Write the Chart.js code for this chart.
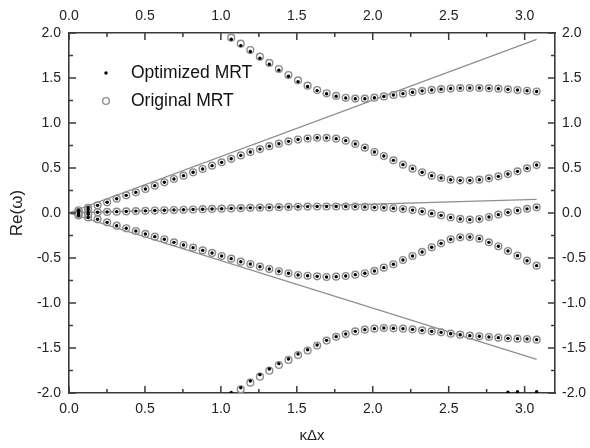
<!DOCTYPE html>
<html>
<head>
<meta charset="utf-8">
<script src="https://cdn.jsdelivr.net/npm/chart.js@4.4.1/dist/chart.umd.min.js"></script>
<style>
  html, body { margin: 0; padding: 0; background: #fff; }
</style>
</head>
<body>
<canvas id="chart" width="590" height="448"></canvas>
<script>
// kΔx sample points (i * pi / 50)
const kdx = [0.063, 0.126, 0.188, 0.251, 0.314, 0.377, 0.440, 0.503, 0.565, 0.628,
  0.691, 0.754, 0.817, 0.880, 0.942, 1.005, 1.068, 1.131, 1.194, 1.257,
  1.319, 1.382, 1.445, 1.508, 1.571, 1.634, 1.696, 1.759, 1.822, 1.885,
  1.948, 2.011, 2.073, 2.136, 2.199, 2.262, 2.325, 2.388, 2.450, 2.513,
  2.576, 2.639, 2.702, 2.765, 2.827, 2.890, 2.953, 3.016, 3.079];

// branches shared by both models (they sit on top of each other)
const upperBranch = [0.030, 0.058, 0.085, 0.119, 0.159, 0.196, 0.230, 0.267, 0.304, 0.341,
  0.378, 0.415, 0.452, 0.489, 0.526, 0.563, 0.602, 0.640, 0.677, 0.710,
  0.743, 0.770, 0.796, 0.816, 0.828, 0.836, 0.835, 0.826, 0.804, 0.767,
  0.726, 0.678, 0.633, 0.585, 0.537, 0.493, 0.452, 0.415, 0.389, 0.370,
  0.363, 0.363, 0.370, 0.385, 0.407, 0.433, 0.463, 0.496, 0.533];
const midBranch = [0.002, 0.005, 0.008, 0.012, 0.015, 0.018, 0.021, 0.024, 0.027, 0.030,
  0.033, 0.036, 0.039, 0.042, 0.045, 0.048, 0.051, 0.054, 0.057, 0.059,
  0.062, 0.065, 0.067, 0.069, 0.071, 0.072, 0.072, 0.072, 0.072, 0.071,
  0.068, 0.063, 0.060, 0.052, 0.044, 0.032, 0.017, -0.005, -0.026, -0.050,
  -0.066, -0.074, -0.067, -0.045, -0.018, 0.007, 0.028, 0.046, 0.063];
const lowerBranch = [-0.028, -0.050, -0.070, -0.104, -0.141, -0.170, -0.200, -0.233, -0.263, -0.292,
  -0.326, -0.356, -0.385, -0.415, -0.444, -0.478, -0.507, -0.541, -0.567, -0.596,
  -0.622, -0.648, -0.670, -0.689, -0.698, -0.704, -0.711, -0.707, -0.700, -0.685,
  -0.670, -0.644, -0.607, -0.570, -0.522, -0.478, -0.433, -0.381, -0.337, -0.292,
  -0.270, -0.267, -0.285, -0.326, -0.370, -0.422, -0.474, -0.530, -0.585];

// outer branches, the two models split slightly at small kΔx
const optTop = [null, null, null, null, null, null, null, null, null, null,
  null, null, null, null, null, null, 1.930, 1.860, 1.795, 1.720,
  1.652, 1.587, 1.520, 1.460, 1.405, 1.360, 1.325, 1.298, 1.278, 1.270,
  1.270, 1.281, 1.295, 1.311, 1.326, 1.342, 1.357, 1.367, 1.376, 1.383,
  1.388, 1.389, 1.389, 1.385, 1.381, 1.374, 1.366, 1.358, 1.350];
const orgTop = [null, null, null, null, null, null, null, null, null, null,
  null, null, null, null, null, null, 1.948, 1.881, 1.811, 1.737,
  1.667, 1.600, 1.533, 1.474, 1.415, 1.366, 1.330, 1.301, 1.280, 1.271,
  1.270, 1.281, 1.295, 1.311, 1.326, 1.342, 1.357, 1.367, 1.376, 1.383,
  1.388, 1.389, 1.389, 1.385, 1.381, 1.374, 1.366, 1.358, 1.350];
const optBottom = [null, null, null, null, null, null, null, null, null, null,
  null, null, null, null, null, null, -1.995, -1.941, -1.867, -1.796,
  -1.733, -1.674, -1.622, -1.567, -1.520, -1.467, -1.415, -1.374, -1.344, -1.315,
  -1.296, -1.285, -1.278, -1.281, -1.285, -1.293, -1.304, -1.315, -1.326, -1.341,
  -1.352, -1.363, -1.370, -1.378, -1.385, -1.393, -1.396, -1.400, -1.407];
const orgBottom = [null, null, null, null, null, null, null, null, null, null,
  null, null, null, null, null, null, null, -1.959, -1.885, -1.819,
  -1.752, -1.689, -1.633, -1.578, -1.528, -1.472, -1.418, -1.376, -1.345, -1.316,
  -1.296, -1.285, -1.278, -1.281, -1.285, -1.293, -1.304, -1.315, -1.326, -1.341,
  -1.352, -1.363, -1.370, -1.378, -1.385, -1.393, -1.396, -1.400, -1.407];

// stray points near the origin and along the bottom edge
const extraX = [0.063, 0.063, 0.126, 0.126, 2.890, 2.953, 3.079];
const extraY = [0.014, -0.012, 0.040, -0.014, -1.990, -1.985, -1.985];

// reference lines (end points)
const lineX = [0, 3.079];
const lineUpper = [0, 1.930];
const lineMid = [0, 0.152];
const lineLower = [0, -1.626];

const xTicks = [0, 0.5, 1.0, 1.5, 2.0, 2.5, 3.0];
const xMinor = [0.25, 0.75, 1.25, 1.75, 2.25, 2.75];
const yTicks = [-2.0, -1.5, -1.0, -0.5, 0.0, 0.5, 1.0, 1.5, 2.0];
const yMinor = [-1.75, -1.25, -0.75, -0.25, 0.25, 0.75, 1.25, 1.75];

function pts(xs, ys) {
  const out = [];
  ys.forEach((y, i) => { if (y !== null) out.push({ x: xs[i], y: y }); });
  return out;
}

const optData = [].concat(pts(kdx, optTop), pts(kdx, upperBranch), pts(kdx, midBranch),
  pts(kdx, lowerBranch), pts(kdx, optBottom), pts(extraX, extraY));
const orgData = [].concat(pts(kdx, orgTop), pts(kdx, upperBranch), pts(kdx, midBranch),
  pts(kdx, lowerBranch), pts(kdx, orgBottom), pts(extraX.slice(0, 4), extraY.slice(0, 4)));

const FONT = "'Liberation Sans', Arial, sans-serif";
const AXIS = '#3a3a3a';

// inward major/minor ticks on all four sides
const frameTicks = {
  id: 'frameTicks',
  afterDraw(chart) {
    const { ctx, chartArea: a, scales } = chart;
    ctx.save();
    ctx.strokeStyle = AXIS;
    ctx.lineWidth = 1.5;
    ctx.beginPath();
    const doX = (vals, len) => vals.forEach(v => {
      const px = scales.x.getPixelForValue(v);
      ctx.moveTo(px, a.bottom); ctx.lineTo(px, a.bottom - len);
      ctx.moveTo(px, a.top); ctx.lineTo(px, a.top + len);
    });
    const doY = (vals, len) => vals.forEach(v => {
      const py = scales.y.getPixelForValue(v);
      ctx.moveTo(a.left, py); ctx.lineTo(a.left + len, py);
      ctx.moveTo(a.right, py); ctx.lineTo(a.right - len, py);
    });
    doX(xTicks, 7); doX(xMinor, 4);
    doY(yTicks, 7); doY(yMinor, 4);
    ctx.stroke();
    ctx.restore();
  }
};

// legend inside the plot, top left
const innerLegend = {
  id: 'innerLegend',
  afterDraw(chart) {
    const { ctx } = chart;
    ctx.save();
    ctx.fillStyle = '#000';
    ctx.beginPath();
    ctx.arc(106, 73, 1.7, 0, Math.PI * 2);
    ctx.fill();
    ctx.strokeStyle = '#8c8c8c';
    ctx.lineWidth = 1.4;
    ctx.beginPath();
    ctx.arc(106, 101, 3.4, 0, Math.PI * 2);
    ctx.stroke();
    ctx.fillStyle = '#111';
    ctx.font = '17.5px ' + FONT;
    ctx.textBaseline = 'middle';
    ctx.fillText('Optimized MRT', 131, 73);
    ctx.fillText('Original MRT', 131, 101);
    ctx.restore();
  }
};

const tickFont = { family: FONT, size: 14 };
const fmt = v => Number(v).toFixed(1);
const setX = s => { s.ticks = xTicks.map(v => ({ value: v })); };
const setY = s => { s.ticks = yTicks.map(v => ({ value: v })); };
const gridOpts = { display: true, drawOnChartArea: false, drawTicks: false };
const borderOpts = { display: true, color: AXIS, width: 1.6 };

new Chart(document.getElementById('chart'), {
  type: 'scatter',
  data: {
    datasets: [
      {
        label: 'Optimized MRT',
        data: optData,
        pointRadius: 1.7,
        pointBackgroundColor: '#000',
        pointBorderWidth: 0
      },
      {
        label: 'Original MRT',
        data: orgData,
        pointRadius: 3.4,
        pointBackgroundColor: 'rgba(255,255,255,0.5)',
        pointBorderColor: '#8c8c8c',
        pointBorderWidth: 1.4
      },
      { data: pts(lineX, lineUpper), showLine: true, pointRadius: 0, borderColor: '#8f8f8f', borderWidth: 1.3 },
      { data: pts(lineX, lineMid), showLine: true, pointRadius: 0, borderColor: '#8f8f8f', borderWidth: 1.3 },
      { data: pts(lineX, lineLower), showLine: true, pointRadius: 0, borderColor: '#8f8f8f', borderWidth: 1.3 }
    ]
  },
  options: {
    responsive: false,
    animation: false,
    layout: { padding: 0 },
    plugins: { legend: { display: false }, tooltip: { enabled: false } },
    scales: {
      x: {
        type: 'linear', position: 'bottom', min: 0, max: 3.2,
        afterBuildTicks: setX,
        afterFit: s => { s.height = 55; },
        ticks: { font: tickFont, color: '#222', padding: 8, callback: fmt, maxRotation: 0 },
        grid: gridOpts, border: borderOpts,
        title: { display: true, text: 'κΔx', font: { family: FONT, size: 15 }, color: '#222', padding: { top: 4, bottom: 3 } }
      },
      x2: {
        type: 'linear', position: 'top', min: 0, max: 3.2,
        afterBuildTicks: setX,
        afterFit: s => { s.height = 33; },
        ticks: { font: tickFont, color: '#222', padding: 8, callback: fmt, maxRotation: 0 },
        grid: gridOpts, border: borderOpts
      },
      y: {
        type: 'linear', position: 'left', min: -2, max: 2,
        afterBuildTicks: setY,
        afterFit: s => { s.width = 69; },
        ticks: { font: tickFont, color: '#222', padding: 8, callback: fmt },
        grid: gridOpts, border: borderOpts,
        title: { display: true, text: 'Re(ω)', font: { family: FONT, size: 17 }, color: '#222', padding: { top: 7, bottom: 0 } }
      },
      y2: {
        type: 'linear', position: 'right', min: -2, max: 2,
        afterBuildTicks: setY,
        afterFit: s => { s.width = 35; },
        ticks: { font: tickFont, color: '#222', padding: 7, callback: fmt },
        grid: gridOpts, border: borderOpts
      }
    }
  },
  plugins: [frameTicks, innerLegend]
});
</script>
</body>
</html>
